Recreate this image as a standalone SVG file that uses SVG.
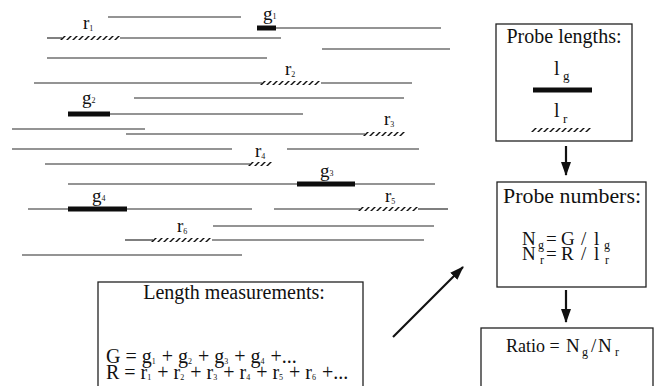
<svg xmlns="http://www.w3.org/2000/svg" width="658" height="386" viewBox="0 0 658 386">
<style>
text{font-family:"Liberation Serif","Times New Roman",serif;fill:#111}
.t{font-size:20px}
.f{font-size:19px}
.r{font-size:18px}
.lab{font-size:19px}
.sd{font-size:8px}
.sb{font-size:13px}
.sf{font-size:12px}
.ln{stroke:#2a2a2a;stroke-width:1.2;fill:none}
.bar{stroke:#0d0d0d;stroke-width:5}
.hatch{stroke:#111;stroke-width:4;stroke-dasharray:2 4}
.box{fill:#fff;stroke:#222;stroke-width:1.3}
.arr{stroke:#111;stroke-width:2.2;fill:none}
</style>
<defs>
<marker id="ah" markerUnits="userSpaceOnUse" markerWidth="14" markerHeight="10" refX="13" refY="5" orient="auto">
<path d="M0,0 L14,5 L0,10 z" fill="#111"/>
</marker>
</defs>
<rect width="658" height="386" fill="#fff"/>

<g id="fragments">
<line class="ln" x1="108" y1="17" x2="241" y2="17"/>
<line class="bar" x1="257" y1="28" x2="276" y2="28"/>
<line class="ln" x1="276" y1="28" x2="441" y2="28"/>
<line class="ln" x1="47" y1="38" x2="62" y2="38"/>
<line class="hatch" x1="0" y1="0" x2="58" y2="0" transform="translate(62,38) skewX(-45)"/>
<line class="ln" x1="120" y1="38" x2="281" y2="38"/>
<line class="ln" x1="322" y1="49" x2="450" y2="49"/>
<line class="ln" x1="47" y1="58" x2="267" y2="58"/>
<line class="ln" x1="34" y1="83" x2="262" y2="83"/>
<line class="hatch" x1="0" y1="0" x2="59" y2="0" transform="translate(262,83) skewX(-45)"/>
<line class="ln" x1="321" y1="83" x2="412" y2="83"/>
<line class="ln" x1="134" y1="98" x2="404" y2="98"/>
<line class="bar" x1="68" y1="114" x2="110" y2="114"/>
<line class="ln" x1="110" y1="114" x2="303" y2="114"/>
<line class="ln" x1="12" y1="129" x2="145" y2="129"/>
<line class="ln" x1="126" y1="134" x2="365" y2="134"/>
<line class="hatch" x1="0" y1="0" x2="40" y2="0" transform="translate(365,134) skewX(-45)"/>
<line class="ln" x1="12" y1="149" x2="232" y2="149"/>
<line class="ln" x1="287" y1="149" x2="419" y2="149"/>
<line class="ln" x1="45" y1="164" x2="250" y2="164"/>
<line class="hatch" x1="0" y1="0" x2="20" y2="0" transform="translate(250,164) skewX(-45)"/>
<line class="ln" x1="68" y1="184" x2="297" y2="184"/>
<line class="bar" x1="297" y1="184" x2="355" y2="184"/>
<line class="ln" x1="355" y1="184" x2="435" y2="184"/>
<line class="ln" x1="28" y1="209" x2="68" y2="209"/>
<line class="bar" x1="68" y1="209" x2="127" y2="209"/>
<line class="ln" x1="127" y1="209" x2="252" y2="209"/>
<line class="ln" x1="274" y1="209" x2="360" y2="209"/>
<line class="hatch" x1="0" y1="0" x2="58" y2="0" transform="translate(360,209) skewX(-45)"/>
<line class="ln" x1="418" y1="209" x2="448" y2="209"/>
<line class="ln" x1="213" y1="226" x2="434" y2="226"/>
<line class="ln" x1="125" y1="240" x2="153" y2="240"/>
<line class="hatch" x1="0" y1="0" x2="59" y2="0" transform="translate(153,240) skewX(-45)"/>
<line class="ln" x1="212" y1="240" x2="424" y2="240"/>
<line class="ln" x1="22" y1="255" x2="242" y2="255"/>

<text class="lab" x="83" y="29">r<tspan class="sd" dy="2">1</tspan></text>
<text class="lab" x="263" y="20">g<tspan class="sd" dy="-1">1</tspan></text>
<text class="lab" x="285" y="75">r<tspan class="sd" dy="2">2</tspan></text>
<text class="lab" x="82" y="104">g<tspan class="sd" dy="-1">2</tspan></text>
<text class="lab" x="384" y="125">r<tspan class="sd" dy="2">3</tspan></text>
<text class="lab" x="255" y="157">r<tspan class="sd" dy="2">4</tspan></text>
<text class="lab" x="320" y="177">g<tspan class="sd" dy="-1">3</tspan></text>
<text class="lab" x="385" y="202">r<tspan class="sd" dy="2">5</tspan></text>
<text class="lab" x="92" y="202">g<tspan class="sd" dy="-1">4</tspan></text>
<text class="lab" x="177" y="232">r<tspan class="sd" dy="2">6</tspan></text>
</g>

<g id="probe-lengths">
<rect class="box" x="496" y="24" width="136" height="117"/>
<text class="t" x="564" y="43" text-anchor="middle">Probe lengths:</text>
<text class="t" x="554" y="75">l</text>
<text class="sb" x="563" y="80">g</text>
<line class="bar" x1="533" y1="90" x2="592" y2="90"/>
<text class="t" x="554" y="117">l</text>
<text class="sb" x="563" y="123">r</text>
<line class="hatch" x1="0" y1="0" x2="59" y2="0" transform="translate(533,130) skewX(-45)"/>
</g>

<g id="probe-numbers">
<rect class="box" x="497" y="182" width="149" height="105"/>
<text class="t" x="503" y="203" textLength="138" lengthAdjust="spacingAndGlyphs">Probe numbers:</text>
<text class="f" x="522" y="245">N</text>
<text class="sf" x="538" y="249">g</text>
<text class="f" x="546" y="245">=</text>
<text class="f" x="561" y="245">G</text>
<text class="f" x="581" y="245">/</text>
<text class="f" x="594" y="245">l</text>
<text class="sf" x="604" y="249">g</text>
<text class="f" x="522" y="260">N</text>
<text class="sf" x="540" y="264">r</text>
<text class="f" x="546" y="260">=</text>
<text class="f" x="561" y="260">R</text>
<text class="f" x="581" y="260">/</text>
<text class="f" x="594" y="260">l</text>
<text class="sf" x="605" y="264">r</text>
</g>

<g id="ratio">
<rect class="box" x="481" y="328" width="172" height="80"/>
<text class="r" x="506" y="352">Ratio =</text>
<text class="f" x="566" y="352">N</text>
<text class="sf" x="582" y="356">g</text>
<text class="f" x="591" y="352">/</text>
<text class="f" x="598" y="352">N</text>
<text class="sf" x="615" y="356">r</text>
</g>

<g id="length-measurements">
<rect class="box" x="98" y="282" width="265" height="130"/>
<text class="t" x="234" y="299" text-anchor="middle">Length measurements:</text>
<text class="t" x="106" y="363">G = g<tspan class="sd" dy="1">1</tspan><tspan dx="1" dy="-1"> + g</tspan><tspan class="sd" dy="1">2</tspan><tspan dx="1" dy="-1"> + g</tspan><tspan class="sd" dy="1">3</tspan><tspan dx="1" dy="-1"> + g</tspan><tspan class="sd" dy="1">4</tspan><tspan dx="1" dy="-1"> +...</tspan></text>
<text class="t" x="106" y="379">R = r<tspan class="sd" dy="1">1</tspan><tspan dx="1" dy="-1"> + r</tspan><tspan class="sd" dy="1">2</tspan><tspan dx="1" dy="-1"> + r</tspan><tspan class="sd" dy="1">3</tspan><tspan dx="1" dy="-1"> + r</tspan><tspan class="sd" dy="1">4</tspan><tspan dx="1" dy="-1"> + r</tspan><tspan class="sd" dy="1">5</tspan><tspan dx="1" dy="-1"> + r</tspan><tspan class="sd" dy="1">6</tspan><tspan dx="1" dy="-1"> +...</tspan></text>
</g>

<g id="connectors">
<line class="arr" x1="566" y1="146" x2="566" y2="175" marker-end="url(#ah)"/>
<line class="arr" x1="566" y1="290" x2="566" y2="322" marker-end="url(#ah)"/>
<line class="arr" x1="393" y1="337" x2="463" y2="267" marker-end="url(#ah)"/>
</g>
</svg>
